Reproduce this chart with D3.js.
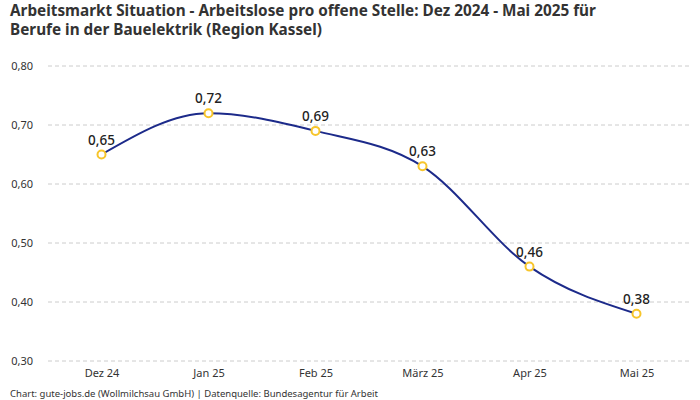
<!DOCTYPE html>
<html>
<head>
<meta charset="utf-8">
<script src="https://cdn.jsdelivr.net/npm/d3@7"></script>
<style>
  body { margin: 0; background: #fff; }
  text { font-family: "Noto Sans", sans-serif; }
</style>
</head>
<body>
<div id="chart"></div>
<script>
// Data
var months = ["Dez 24", "Jan 25", "Feb 25", "März 25", "Apr 25", "Mai 25"];
var ratio = [0.65, 0.72, 0.69, 0.63, 0.46, 0.38];
var yTicks = [0.3, 0.4, 0.5, 0.6, 0.7, 0.8];
var titleLines = [
  "Arbeitsmarkt Situation - Arbeitslose pro offene Stelle: Dez 2024 - Mai 2025 für",
  "Berufe in der Bauelektrik (Region Kassel)"
];

var svgWidth = 700;
var svgHeight = 400;

var svg = d3.select("#chart")
  .append("svg")
  .attr("width", svgWidth)
  .attr("height", svgHeight);

// Title, one text per line
svg.append("g")
  .selectAll("text")
  .data(titleLines)
  .enter()
  .append("text")
  .attr("x", 10)
  .attr("y", (d, i) => 16 + i * 19)
  .style("font-size", "15.3px")
  .style("font-weight", "bold")
  .style("fill", "#333")
  .text(d => d);

// Scales
var x = d3.scalePoint()
  .domain(months)
  .range([48, 690])
  .padding(0.5);

var y = d3.scaleLinear()
  .domain([0.3, 0.8])
  .range([361, 66]);

var fmt = function(v) { return v.toFixed(2).replace(".", ","); };

// Grid lines
svg.append("g")
  .selectAll("line")
  .data(yTicks)
  .enter()
  .append("line")
  .attr("x1", 48)
  .attr("x2", 690)
  .attr("y1", d => y(d))
  .attr("y2", d => y(d))
  .attr("stroke", "#ccc")
  .attr("stroke-dasharray", "4,3");

// Y axis labels
var leftAxis = d3.axisLeft(y).tickValues(yTicks).tickFormat(fmt).tickSize(0).tickPadding(0);
var gy = svg.append("g")
  .attr("transform", "translate(33,0)")
  .call(leftAxis);
gy.select(".domain").remove();
gy.selectAll("text")
  .style("font-size", "11px")
  .style("fill", "#333")
  .style("font-family", "'Noto Sans', sans-serif");

// X axis labels
var bottomAxis = d3.axisBottom(x).tickSize(0).tickPadding(0);
var gx = svg.append("g")
  .attr("transform", "translate(0,369)")
  .call(bottomAxis);
gx.select(".domain").remove();
gx.selectAll("text")
  .style("font-size", "11px")
  .style("fill", "#333")
  .style("font-family", "'Noto Sans', sans-serif");

// Line
var line = d3.line()
  .x((d, i) => x(months[i]))
  .y(d => y(d))
  .curve(d3.curveMonotoneX);

svg.append("path")
  .datum(ratio)
  .attr("d", line)
  .attr("fill", "none")
  .attr("stroke", "#1c2a8a")
  .attr("stroke-width", 2);

// Points
svg.append("g")
  .selectAll("circle")
  .data(ratio)
  .enter()
  .append("circle")
  .attr("cx", (d, i) => x(months[i]))
  .attr("cy", d => y(d))
  .attr("r", 4)
  .attr("fill", "#fff")
  .attr("stroke", "#f7c52b")
  .attr("stroke-width", 2);

// Value labels
svg.append("g")
  .selectAll("text")
  .data(ratio)
  .enter()
  .append("text")
  .attr("x", (d, i) => x(months[i]))
  .attr("y", d => y(d) - 10)
  .style("font-size", "13.5px")
  .style("font-weight", "500")
  .style("text-anchor", "middle")
  .style("fill", "#222")
  .text(d => fmt(d));

// Footer
svg.append("text")
  .attr("x", 10)
  .attr("y", 397)
  .style("font-size", "9.5px")
  .style("fill", "#333")
  .text("Chart: gute-jobs.de (Wollmilchsau GmbH) | Datenquelle: Bundesagentur für Arbeit");
</script>
</body>
</html>
